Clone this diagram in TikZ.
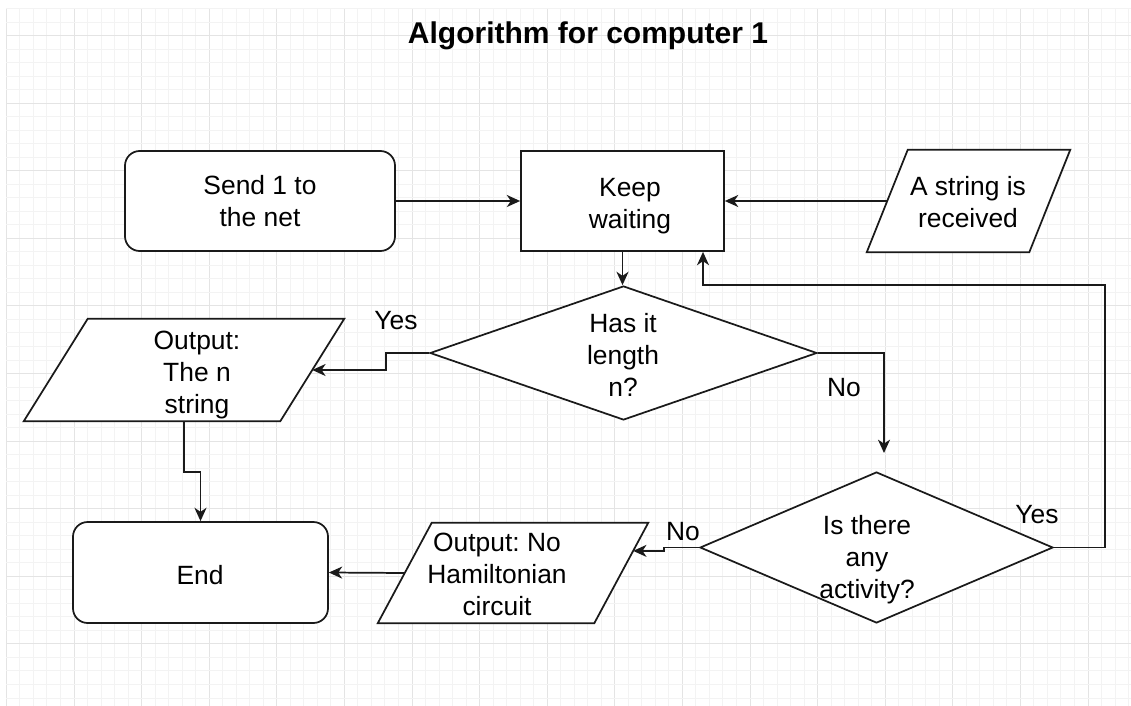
\documentclass[tikz,border=0pt]{standalone}
\usepackage{fontspec}
\setmainfont{Liberation Sans}
\usetikzlibrary{arrows.meta,calc,shapes.geometric}
\frenchspacing

\definecolor{gridminor}{HTML}{F3F3F3}
\definecolor{gridmajor}{HTML}{E4E4E4}
\definecolor{ink}{HTML}{1A1A1A}

\begin{document}
\begin{tikzpicture}[x=0.75pt,y=-0.75pt,
  shapeline/.style={draw=ink,line width=1.3pt,fill=white,inner sep=0pt},
  term/.style={shapeline,rectangle,rounded corners=11pt},
  proc/.style={shapeline,rectangle},
  decision/.style={shapeline,diamond},
  iobb/.style={rectangle,inner sep=0pt},
  txt/.style={font=\fontsize{19.8}{24}\selectfont,align=center,inner sep=0pt,text=black},
  lbl/.style={font=\fontsize{19.8}{24}\selectfont,inner sep=0pt,text=black},
  arr/.style={draw=ink,line width=1.3pt,-{Stealth[length=10pt,width=9pt,inset=3pt]}}
]
\useasboundingbox (0,0) rectangle (1131,706);

% background grid
\fill[white] (0,0) rectangle (1131,706);
\foreach \i in {0,...,83}{
  \pgfmathsetmacro\gx{6.4+13.52*\i}
  \pgfmathtruncatemacro\m{mod(\i,5)}
  \ifnum\m=0
    \draw[gridmajor,line width=0.75pt] (\gx,8.5) -- (\gx,706);
  \else
    \draw[gridminor,line width=0.75pt] (\gx,8.5) -- (\gx,706);
  \fi
}
\foreach \j in {0,...,51}{
  \pgfmathsetmacro\gy{8.5+13.52*\j}
  \pgfmathtruncatemacro\m{mod(\j+3,5)}
  \ifnum\m=0
    \draw[gridmajor,line width=0.75pt] (6.4,\gy) -- (1131,\gy);
  \else
    \draw[gridminor,line width=0.75pt] (6.4,\gy) -- (1131,\gy);
  \fi
}

% title
\node[font=\fontsize{22.5}{27}\selectfont\bfseries,inner sep=0pt] (title) at (588,36) {Algorithm for computer 1};

% process and decision shapes
\node[term,minimum width=202.5pt,minimum height=75pt] (send) at (260,201) {};
\node[proc,minimum width=152.25pt,minimum height=75pt] (keep) at (622.5,201) {};
\node[decision,minimum width=290.25pt,minimum height=100.5pt] (has) at (623.5,353) {};
\node[decision,minimum width=264.75pt,minimum height=113.25pt] (act) at (876.5,547.5) {};
\node[term,minimum width=191.25pt,minimum height=75.75pt] (endn) at (200.5,572.5) {};

% input/output parallelograms: bounding node, then the slanted outline
\node[iobb,minimum width=152.25pt,minimum height=76.5pt] (recv) at (968.5,201) {};
\draw[shapeline] ([xshift=30.75pt]recv.north west) -- (recv.north east)
  -- ([xshift=-30.75pt]recv.south east) -- (recv.south west) -- cycle;
\node[iobb,minimum width=240pt,minimum height=76.5pt] (out1) at (184,370) {};
\draw[shapeline] ([xshift=48pt]out1.north west) -- (out1.north east)
  -- ([xshift=-48pt]out1.south east) -- (out1.south west) -- cycle;
\node[iobb,minimum width=202.5pt,minimum height=75pt] (out2) at (513,573) {};
\draw[shapeline] ([xshift=40.5pt]out2.north west) -- (out2.north east)
  -- ([xshift=-40.5pt]out2.south east) -- (out2.south west) -- cycle;

% texts
\node[txt] (tsend) at (260,201) {Send 1 to\\the net};
\node[txt] (tkeep) at (630,206) {Keep\\waiting};
\node[txt] (trecv) at (968,202) {A string is\\received};
\node[txt] (thas) at (623,355) {Has it\\length\\n?};
\node[txt] (tout1) at (197,375) {Output:\\The n\\string};
\node[txt] (tact) at (867,560) {Is there\\any\\activity?};
\node[txt] (tout2) at (497,574.5) {Output: No\\Hamiltonian\\circuit};
\node[txt] (tend) at (200,575) {End};

% branch labels
\node[lbl] (yes1) at (396,321) {Yes};
\node[lbl] (no1) at (844,388) {No};
\node[lbl] (yes2) at (1037,515) {Yes};
\node[lbl] (no2) at (683,532) {No};

% connector end points on the slanted edges
\coordinate (recvin) at ([xshift=15.375pt]recv.west);
\coordinate (out1in) at ([xshift=-24pt]out1.east);
\coordinate (out1out) at (out1.south);
\coordinate (out2out) at ([xshift=20.25pt]out2.west);
\coordinate (out2in) at ($([xshift=-40.5pt]out2.south east)!0.72!(out2.north east)$);
\coordinate (nend) at (884,453);
\coordinate (kin) at ($(keep.south)+(80.5,0)$);

% connectors
\draw[arr] (send.east) -- (keep.west);
\draw[arr] (recvin) -- (keep.east);
\draw[arr] (keep.south) -- (keep.south |- has.north);
\draw[arr] (has.west) -- ++(-43,0) |- (out1in);
\draw[arr] (has.east) -| (nend);
\draw[arr] (act.east) -| ++(51,-262.5) -| (kin);
\draw[arr] (act.west) -- ++(-35,0) |- (out2in);
\draw[arr] (out2out) -- (endn.east);
\draw[arr] (out1out) -- ++(0,51) -| (endn.north);
\end{tikzpicture}
\end{document}
